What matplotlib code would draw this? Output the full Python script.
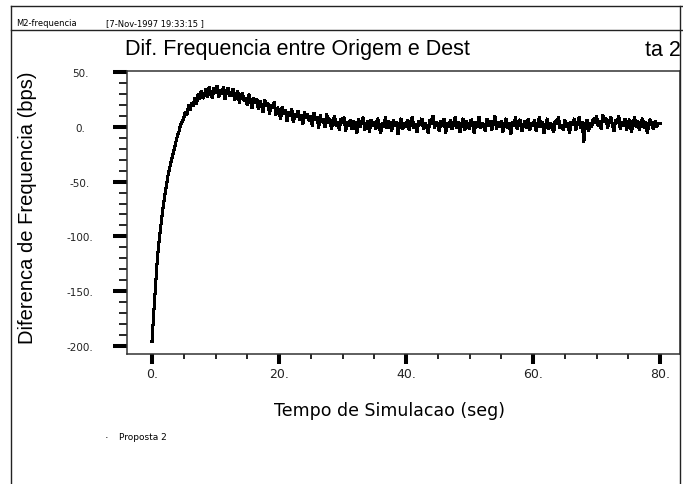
import numpy as np
import matplotlib
matplotlib.use("Agg")
import matplotlib.pyplot as plt
from matplotlib.lines import Line2D
from matplotlib.ticker import MultipleLocator, FixedLocator

plt.rcParams["path.simplify"] = False

W, H = 683, 485
DPI = 100

# ---- data ----
t_step = 0.25
freq_diff = [
    -196, -172, -150, -128, -110, -97, -85, -73, -63, -54, -45, -38, -32, -26, -20, -14, -8, -4, 2, 5,
    8, 14, 11, 20, 15, 22, 19, 27, 21, 30, 25, 33, 26, 29, 35, 27, 37, 30, 26, 36,
    31, 38, 27, 34, 30, 37, 25, 33, 36, 28, 31, 35, 24, 30, 33, 22, 29, 31, 24, 27,
    20, 30, 24, 17, 27, 22, 26, 16, 24, 20, 13, 25, 19, 22, 12, 20, 17, 23, 11, 18,
    14, 7, 19, 12, 16, 5, 14, 10, 17, 4, 12, 9, 15, 6, 11, 2, 14, 8, 12, 5,
    10, 1, 13, 6, 9, -1, 11, 4, 7, 0, 12, 3, 8, -2, 6, 10, 1, 5, -3, 8,
    3, 9, -4, 5, 1, 7, -2, 6, 2, -6, 8, 0, 4, 9, -3, 2, 6, -5, 7, 1,
    5, -2, 8, 3, -6, 4, 0, 9, -1, 6, 2, -4, 7, 1, 5, -7, 3, 8, -2, 4,
    0, 7, -3, 5, 9, -1, 3, -5, 6, 2, 8, -2, 4, 0, -6, 7, 3, 10, -1, 5,
    2, -4, 6, 1, 8, -6, 4, 0, 7, -2, 3, 9, -1, 5, -5, 2, 8, -3, 6, 1,
    -2, 7, 3, -6, 5, 0, 9, -1, 4, 2, -4, 8, 1, 6, -3, 3, 10, -2, 5, 0,
    6, -5, 2, 8, -1, 4, -7, 5, 1, 9, -2, 3, 7, -4, 2, 6, -1, 8, -3, 4,
    1, 7, -4, 3, 9, 0, 5, -6, 2, 8, -2, 4, 1, -5, 6, 3, 9, -1, 2, -3,
    7, 0, 4, -6, 5, 2, 8, -3, 3, 9, -1, 5, -14, 2, 7, -4, 4, 0, 8, 3,
    10, 1, 6, -2, 11, 4, 8, -1, 5, 9, 2, -4, 7, 3, 10, -2, 5, 1, 8, -3,
    4, 7, -5, 2, 9, 0, 6, -3, 3, 8, -1, 5, -6, 4, 7, 1, -2, 6, 0, 3,
    3,
]
time_s = np.arange(len(freq_diff)) * t_step

x_ticks = [0, 20, 40, 60, 80]
x_tick_labels = ["0.", "20.", "40.", "60.", "80."]
y_ticks = [50, 0, -50, -100, -150, -200]
y_tick_labels = ["50.", "0.", "-50.", "-100.", "-150.", "-200."]

header_left = "M2-frequencia"
header_date = "[7-Nov-1997 19:33:15 ]"
title_left = "Dif. Frequencia entre Origem e Dest"
title_right = "ta 2"
x_label = "Tempo de Simulacao (seg)"
y_label = "Diferenca de Frequencia (bps)"
legend_label = "Proposta 2"

# ---- figure ----
fig = plt.figure(figsize=(W / DPI, H / DPI), dpi=DPI)
fig.patch.set_facecolor("white")

def fx(x):
    return x / W

def fy(y):
    return 1 - y / H

# axes box in pixels
L, R, T, B = 127, 680, 72, 355
ax = fig.add_axes([fx(L), fy(B), fx(R) - fx(L), fy(T) - fy(B)])
ax.plot(time_s, freq_diff, color="black", lw=1.5, solid_joinstyle="miter", antialiased=False)

ax.set_xlim(-3.94, 83.15)
ax.set_ylim(-207.6, 51.2)

for s in ax.spines.values():
    s.set_linewidth(1.1)
    s.set_color("#333333")

ax.xaxis.set_major_locator(FixedLocator(x_ticks))
ax.set_xticklabels(x_tick_labels)
ax.xaxis.set_minor_locator(MultipleLocator(5))
ax.yaxis.set_major_locator(FixedLocator(y_ticks))
ax.set_yticklabels(y_tick_labels)
ax.yaxis.set_minor_locator(MultipleLocator(10))

ax.tick_params(axis="x", which="major", direction="out", length=7.2, width=2.9,
               color="black", pad=2, labelsize=9, labelcolor="#222222")
ax.tick_params(axis="x", which="minor", direction="out", length=3.6, width=1.2, color="black")
ax.tick_params(axis="y", which="major", direction="out", length=10, width=2.9,
               color="black", pad=23.8, labelsize=7.5, labelcolor="#222222")
ax.tick_params(axis="y", which="minor", direction="out", length=5.8, width=1.2, color="black")
for lab in ax.get_xticklabels() + ax.get_yticklabels():
    lab.set_fontfamily("DejaVu Sans")
for lab in ax.get_yticklabels():
    lab.set_ha("center")

# frame lines
frame_kw = dict(color="#222222", lw=1.0, transform=fig.transFigure)
fig.add_artist(Line2D([fx(11), fx(11)], [fy(7), fy(490)], **frame_kw))
fig.add_artist(Line2D([fx(11), fx(690)], [fy(7), fy(7)], **frame_kw))
fig.add_artist(Line2D([fx(11), fx(690)], [fy(31), fy(31)], **frame_kw))
fig.add_artist(Line2D([fx(680), fx(680)], [fy(7), fy(490)], **frame_kw))

fig.text(fx(16), fy(24), header_left, fontsize=6, family="DejaVu Sans", va="center", ha="left")
fig.text(fx(106), fy(24), header_date, fontsize=6, family="DejaVu Sans", va="center", ha="left")

fig.text(fx(125), fy(50), title_left, fontsize=15.5, family="Liberation Sans", va="center", ha="left")
fig.text(fx(681), fy(50), title_right, fontsize=15.5, family="Liberation Sans", va="center", ha="right")

fig.text(fx(390), fy(411), x_label, fontsize=12.5, family="DejaVu Sans", va="center", ha="center")
fig.text(fx(28), fy(208), y_label, fontsize=14.5, family="Liberation Sans", va="center",
         ha="center", rotation=90)

fig.text(fx(107), fy(438), "\u00b7", fontsize=8, family="DejaVu Sans", va="center", ha="center")
fig.text(fx(119), fy(438), legend_label, fontsize=6.5, family="DejaVu Sans", va="center", ha="left")

fig.savefig("out.png", dpi=DPI)
